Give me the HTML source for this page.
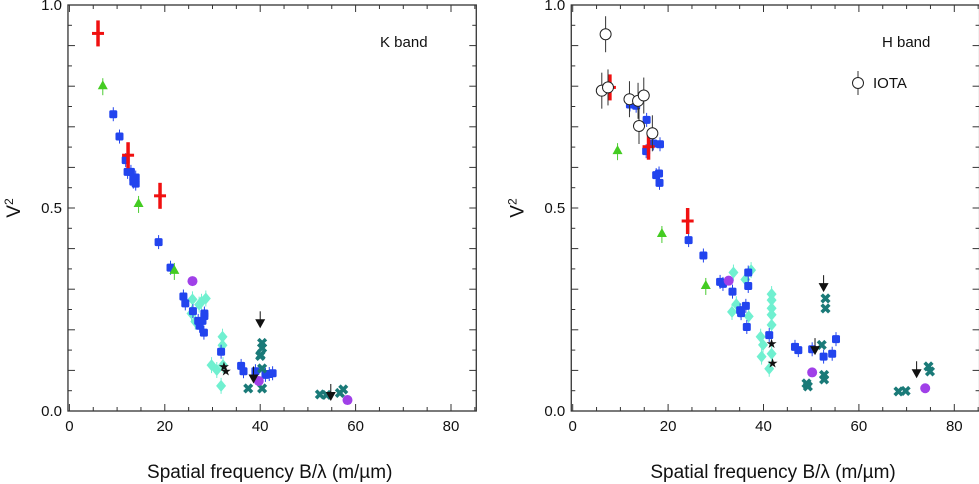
<!DOCTYPE html>
<html><head><meta charset="utf-8"><style>
body{margin:0;background:#fff;}
svg{display:block;font-family:"Liberation Sans",Arial,sans-serif;}
</style></head><body>
<svg id="chart" width="979" height="484" viewBox="0 0 979 484" xmlns="http://www.w3.org/2000/svg"></svg>
<script>
// ---- K band data ----
const kRedX=[6,12.3,19]; const kRedY=[0.93,0.63,0.53];
const kGreenX=[7,14.5,22]; const kGreenY=[0.80,0.51,0.345];
const kBlueX=[9.2,10.5,11.8,12.2,12.9,13.4,13.9,13.4,13.9,18.7,21.2,23.9,24.3,25.9,27.0,27.9,28.3,28.3,27.3,28.2,31.8,36,36.5,39,41.1,42.6,41.9];
const kBlueY=[0.731,0.676,0.618,0.589,0.589,0.575,0.575,0.565,0.56,0.416,0.353,0.282,0.265,0.246,0.222,0.222,0.24,0.234,0.21,0.193,0.146,0.111,0.098,0.098,0.089,0.093,0.091];
const kPurpleX=[25.8,39.7,58.3]; const kPurpleY=[0.32,0.074,0.027];
const kCyanX=[25.8,27.7,28.6,25.6,26.4,32.1,32.1,29.8,30.9,31.8,32.2,27.2];
const kCyanY=[0.275,0.269,0.277,0.24,0.22,0.183,0.162,0.113,0.101,0.062,0.113,0.262];
const kTealX=[40.4,40.4,40.1,40,40.4,37.5,40.4,52.5,53.9,57.4,56.7];
const kTealY=[0.167,0.155,0.138,0.135,0.105,0.056,0.056,0.041,0.04,0.053,0.044];
const kTriX=[40,38.6,54.8]; const kTriY=[0.216,0.08,0.037];
const kStarX=[32.4,32.8]; const kStarY=[0.111,0.1];
// ---- H band data ----
const hIotaX=[6.9,6.1,7.4,11.9,13.7,14.9,13.9,16.7]; const hIotaY=[0.928,0.789,0.797,0.768,0.764,0.777,0.702,0.684];
const hRedX=[7.8,15.9,24.1]; const hRedY=[0.797,0.651,0.468];
const hGreenX=[9.4,18.7,27.9]; const hGreenY=[0.640,0.436,0.308];
const hBlueX=[12,13.3,15.5,15.4,16.9,18.3,17.5,18.1,18.2,24.3,27.4,30.9,31.5,33.5,36.8,36.8,36.3,35.1,35.3,36.5,41.2,46.6,47.3,50.2,52.6,54.4,55.2];
const hBlueY=[0.755,0.752,0.717,0.640,0.659,0.657,0.581,0.585,0.562,0.421,0.383,0.318,0.313,0.294,0.341,0.308,0.259,0.248,0.241,0.207,0.187,0.158,0.15,0.152,0.134,0.141,0.177];
const hPurpleX=[32.7,50.2,73.9]; const hPurpleY=[0.321,0.095,0.056];
const hCyanX=[33.7,36.2,37.4,34.3,33.4,36.9,39.4,39.9,39.6,41.2,41.7,41.7,41.7,41.7,41.7,41.7];
const hCyanY=[0.341,0.324,0.347,0.263,0.244,0.233,0.183,0.163,0.134,0.104,0.288,0.273,0.253,0.237,0.212,0.141];
const hTealX=[53,53,52.2,52.7,52.7,49,49.3,68.3,69.8,74.9,74.6];
const hTealY=[0.277,0.253,0.163,0.077,0.089,0.068,0.06,0.048,0.049,0.097,0.109];
const hTriX=[52.6,50.8,72.1]; const hTriY=[0.305,0.15,0.093];
const hStarX=[41.7,41.9]; const hStarY=[0.167,0.119];
const xTicks=[0,20,40,60,80]; const yTicks=[0.0,0.5,1.0]; const yTickLabels=["0.0","0.5","1.0"];

const NS="http://www.w3.org/2000/svg";
const svg=document.getElementById('chart');
function mk(tag,attrs,parent){const e=document.createElementNS(NS,tag);for(const k in attrs)e.setAttribute(k,attrs[k]);(parent||svg).appendChild(e);return e;}

function panel(p){
  const g=mk('g',{});
  
  
  const x0=p.left, pxu=4.77, xMax=85.3;
  const sx=v=>x0+v*pxu; const sy=v=>411-v*406;
  const L=sx(-0.3), R=sx(xMax), T=5, B=411;
  const fr=mk('rect',{x:L,y:T,width:R-L,height:B-T,fill:'none',stroke:'#333','stroke-width':1.3},g);
  
  
  for(let v=0;v<=85;v+=5){const len=v%20===0?7:4;
    mk('line',{x1:sx(v),x2:sx(v),y1:B,y2:B-len,stroke:'#333'},g);
    mk('line',{x1:sx(v),x2:sx(v),y1:T,y2:T+len,stroke:'#333'},g);}
  for(let i=0;i<=20;i++){const v=i*0.05;const len=i%2===0?7:4;
    mk('line',{x1:L,x2:L+len,y1:sy(v),y2:sy(v),stroke:'#333'},g);
    mk('line',{x1:R,x2:R-len,y1:sy(v),y2:sy(v),stroke:'#333'},g);}
  xTicks.forEach(v=>{const t=mk('text',{x:sx(v),y:431,'font-size':15,'text-anchor':'middle',fill:'#111'},g);t.textContent=v;
    
    });
  yTicks.forEach((v,i)=>{const t=mk('text',{x:L-6,y:sy(v)+5,'font-size':15,'text-anchor':'end',fill:'#111'},g);t.textContent=yTickLabels[i];
    
    });
  const xt=mk('text',{x:sx(42),y:478,'font-size':19,'text-anchor':'middle',fill:'#111'},g);
  xt.innerHTML='Spatial frequency B/λ (m/µm)';
  
  
  const yt=mk('text',{x:0,y:0,'font-size':19,'text-anchor':'middle',fill:'#111',transform:`translate(${L-48},208) rotate(-90)`},g);
  yt.innerHTML='V<tspan dy="-7" font-size="12">2</tspan>';
  
  
  const bt=mk('text',{x:p.bandX,y:47,'font-size':15,fill:'#111'},g);bt.textContent=p.band;
  
  
  return {g,sx,sy};
}
function series(P,xs,ys,type,name){
  const g=mk('g',{},P.g);
  
  
  xs.forEach((xv,i)=>{const x=P.sx(xv),y=P.sy(ys[i]);let e;
    if(type==='red'){mk('line',{x1:x,x2:x,y1:y-13,y2:y+13,stroke:'#f01010','stroke-width':3.5},g);e=mk('line',{x1:x-6,x2:x+6,y1:y,y2:y,stroke:'#f01010','stroke-width':3},g);}
    else if(type==='green'){mk('line',{x1:x,x2:x,y1:y-8,y2:y+9,stroke:'#4ccc33','stroke-width':1},g);e=mk('polygon',{points:`${x},${y-6} ${x-5},${y+3} ${x+5},${y+3}`,fill:'#44cc22'},g);}
    else if(type==='blue'){mk('line',{x1:x,x2:x,y1:y-7,y2:y+7,stroke:'#2244ee','stroke-width':1},g);e=mk('rect',{x:x-4,y:y-4,width:8,height:8,rx:1.5,fill:'#2244ee'},g);}
    else if(type==='purple'){e=mk('circle',{cx:x,cy:y,r:5,fill:'#a040e8'},g);}
    else if(type==='cyan'){mk('line',{x1:x,x2:x,y1:y-8,y2:y+8,stroke:'#70f0d0','stroke-width':1},g);e=mk('polygon',{points:`${x},${y-6} ${x+5},${y} ${x},${y+6} ${x-5},${y}`,fill:'#70f0d0'},g);}
    else if(type==='teal'){e=mk('text',{x:x,y:y+5,'font-size':14,'font-weight':'bold','text-anchor':'middle',fill:'#1a7a78'},g);e.textContent='✖';}
    else if(type==='tri'){mk('line',{x1:x,x2:x,y1:y-12,y2:y,stroke:'#111','stroke-width':1},g);e=mk('polygon',{points:`${x-5},${y-4} ${x+5},${y-4} ${x},${y+5}`,fill:'#111'},g);}
    else if(type==='star'){e=mk('text',{x:x,y:y+5,'font-size':13,'text-anchor':'middle',fill:'#111'},g);e.textContent='★';}
    else if(type==='iota'){mk('line',{x1:x,x2:x,y1:y-18,y2:y+18,stroke:'#333','stroke-width':1},g);e=mk('circle',{cx:x,cy:y,r:5.5,fill:'#fff',stroke:'#222','stroke-width':1},g);}
    
    
  });
}
const K=panel({name:'k-band-panel',left:69.4,band:'K band',bandX:380});
series(K,kCyanX,kCyanY,'cyan','k-cyan-series');
series(K,kBlueX,kBlueY,'blue','k-blue-series');
series(K,kTealX,kTealY,'teal','k-teal-series');
series(K,kPurpleX,kPurpleY,'purple','k-purple-series');
series(K,kGreenX,kGreenY,'green','k-green-series');
series(K,kRedX,kRedY,'red','k-red-series');
series(K,kTriX,kTriY,'tri','k-upper-limits');
series(K,kStarX,kStarY,'star','k-star-series');

const H=panel({name:'h-band-panel',left:572.7,band:'H band',bandX:882});
series(H,hCyanX,hCyanY,'cyan','h-cyan-series');
series(H,hBlueX,hBlueY,'blue','h-blue-series');
series(H,hTealX,hTealY,'teal','h-teal-series');
series(H,hPurpleX,hPurpleY,'purple','h-purple-series');
series(H,hGreenX,hGreenY,'green','h-green-series');
series(H,hRedX,hRedY,'red','h-red-series');
series(H,hTriX,hTriY,'tri','h-upper-limits');
series(H,hStarX,hStarY,'star','h-star-series');
series(H,hIotaX,hIotaY,'iota','h-iota-series');

const lg=mk('g',{});


mk('line',{x1:858,x2:858,y1:71,y2:95,stroke:'#333'},lg);
mk('circle',{cx:858,cy:83,r:5.5,fill:'#fff',stroke:'#222'},lg);
const lt=mk('text',{x:873,y:88,'font-size':15,fill:'#111'},lg);lt.textContent='IOTA';
</script>
</body></html>
